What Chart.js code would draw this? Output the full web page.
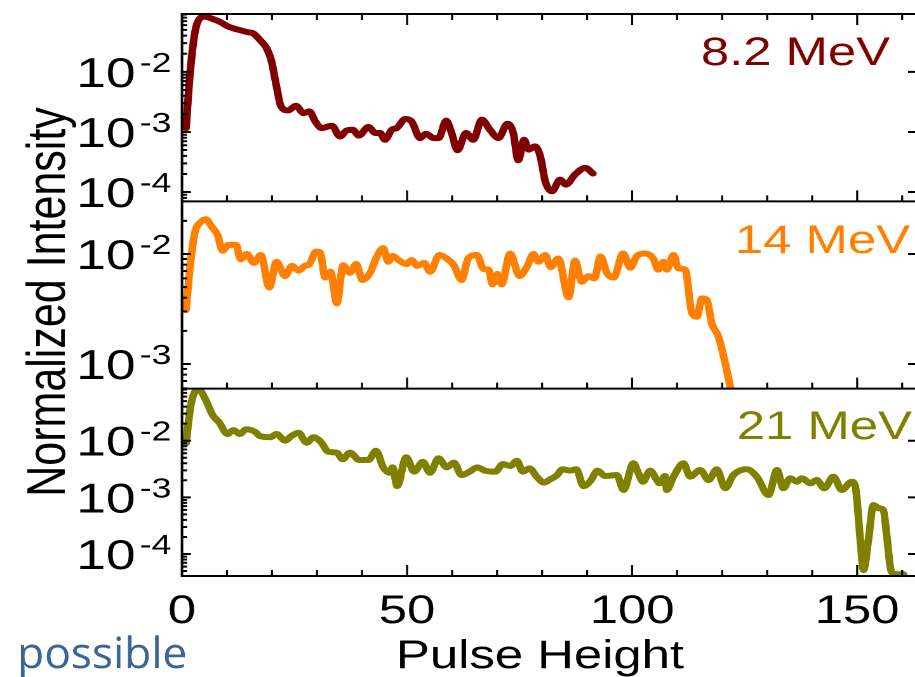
<!DOCTYPE html>
<html>
<head>
<meta charset="utf-8">
<title>Pulse height spectra</title>
<script src="https://cdn.jsdelivr.net/npm/chart.js@4.4.1/dist/chart.umd.min.js"></script>
<style>
    html, body { margin: 0; padding: 0; background: #fff; overflow: hidden; }
    /* the source figure is stretched sideways, so the canvas is too */
    #wrap { position: absolute; left: 0; top: 0; width: 721px; height: 677px; transform: scaleX(1.27); transform-origin: 0 0; }
</style>
</head>
<body>
<div id="wrap"><canvas id="chart-spectra" width="721" height="677"></canvas></div>
<script>
// 8.2 MeV
const pulse82 = [0.9, 1.8, 2.9, 4.0, 5.1, 7.0, 8.4, 10.3, 12.2, 13.3, 14.7, 15.8, 17.3, 18.8, 19.9, 21.0,
    22.0, 23.6, 25.3, 27.0, 28.3, 29.6, 31.0, 33.3, 35.1, 36.6, 37.9, 39.3, 41.4, 43.0, 44.0, 45.1,
    46.6, 47.7, 49.6, 51.0, 52.9, 54.2, 55.9, 57.0, 58.7, 59.9, 61.2, 63.1, 64.7, 66.6, 68.4, 70.3,
    72.3, 73.6, 74.7, 76.0, 77.0, 78.4, 79.6, 80.7, 82.2, 84.0, 85.3, 87.3, 89.6, 91.3];
const intensity82 = [1.16e-3, 9.6e-3, 0.0467, 0.078, 0.083, 0.075, 0.068, 0.0565, 0.051, 0.0485, 0.0456, 0.0438, 0.034, 0.0247, 0.0148, 5.7e-3,
    2.65e-3, 2.28e-3, 2.73e-3, 2.06e-3, 2.2e-3, 1.5e-3, 1.16e-3, 1.27e-3, 8.4e-4, 1.06e-3, 1.09e-3, 8.7e-4, 1.21e-3, 9.6e-4, 9.6e-4, 7.4e-4,
    1.09e-3, 1.16e-3, 1.64e-3, 1.5e-3, 7.9e-4, 9.35e-4, 7.9e-4, 7.9e-4, 1.54e-3, 9.6e-4, 4.95e-4, 9.6e-4, 7.4e-4, 1.6e-3, 1.09e-3, 7.9e-4,
    1.37e-3, 9.6e-4, 3.37e-4, 7.4e-4, 5.07e-4, 5.75e-4, 3.93e-4, 1.51e-4, 1.03e-4, 1.61e-4, 1.33e-4, 1.95e-4, 2.52e-4, 2.03e-4];

// 14 MeV
const pulse14 = [0.9, 1.8, 2.9, 4.0, 5.3, 6.6, 7.9, 9.0, 10.3, 12.0, 13.0, 14.4, 16.0, 17.5, 19.4, 21.0,
    22.9, 24.4, 25.9, 27.3, 28.3, 29.8, 30.7, 31.8, 33.0, 34.4, 35.8, 37.3, 38.7, 40.1, 41.8, 43.1,
    44.7, 45.8, 46.8, 48.3, 49.9, 51.0, 52.3, 53.8, 55.1, 57.2, 58.8, 60.4, 62.1, 63.6, 65.5, 67.0,
    68.1, 69.0, 70.1, 71.0, 72.9, 75.0, 76.6, 78.1, 79.2, 80.7, 81.9, 83.6, 85.9, 87.3, 88.8, 90.3,
    91.6, 93.0, 94.4, 95.9, 98.0, 99.6, 101.0, 102.9, 104.7, 105.8, 107.0, 107.7, 109.2, 110.3, 111.8, 113.3,
    114.4, 115.5, 116.6, 117.7, 119.2, 120.7, 122.2];
const intensity14 = [3.1e-3, 7.7e-3, 0.016, 0.0192, 0.0207, 0.0177, 0.0149, 0.0107, 0.0121, 0.0121, 8.95e-3, 0.01, 8.3e-3, 9.8e-3, 4.97e-3, 8.5e-3,
    6.3e-3, 7.8e-3, 7.05e-3, 7.8e-3, 8.1e-3, 0.0105, 0.0103, 6.1e-3, 6.9e-3, 3.55e-3, 7.9e-3, 6.75e-3, 8.1e-3, 5.8e-3, 6.75e-3, 9.1e-3,
    0.0113, 8.5e-3, 9.6e-3, 8.7e-3, 8.1e-3, 8.8e-3, 7.8e-3, 8.3e-3, 6.9e-3, 9.8e-3, 9.1e-3, 7.9e-3, 5.8e-3, 9.1e-3, 9.8e-3, 7.3e-3,
    7.2e-3, 5.3e-3, 6.6e-3, 5.3e-3, 0.0101, 6.3e-3, 7.6e-3, 0.01, 8.5e-3, 9.8e-3, 7.6e-3, 9.1e-3, 4.03e-3, 8.7e-3, 5.6e-3, 6.3e-3,
    6.0e-3, 9.5e-3, 6.7e-3, 6.1e-3, 0.0101, 7.5e-3, 9.5e-3, 0.0101, 9.1e-3, 7.2e-3, 8.5e-3, 7.2e-3, 9.8e-3, 7.4e-3, 7.2e-3, 2.89e-3,
    2.69e-3, 3.95e-3, 3.82e-3, 2.34e-3, 1.77e-3, 1.01e-3, 5.2e-4];

// 21 MeV
const pulse21 = [0.9, 1.9, 2.9, 3.8, 5.1, 6.8, 8.3, 10.1, 11.4, 12.9, 14.2, 16.2, 17.3, 19.6, 21.0, 22.9,
    24.3, 25.9, 27.7, 29.2, 30.8, 32.5, 34.4, 35.7, 37.3, 39.4, 41.4, 43.1, 44.7, 46.1, 46.8, 47.8,
    49.8, 51.6, 53.5, 55.1, 57.0, 58.8, 60.4, 62.1, 63.9, 65.6, 67.3, 69.6, 71.3, 72.9, 74.4, 75.7,
    77.2, 78.8, 80.4, 81.8, 83.1, 84.6, 86.1, 87.6, 89.2, 90.8, 92.3, 94.0, 96.6, 98.1,
    100.3, 101.4, 102.4, 104.0, 105.5, 106.1, 107.3, 107.7, 109.2, 111.4, 112.9, 115.1, 117.0, 118.8, 120.7, 122.5,
    125.5, 127.7, 130.3, 132.2, 133.6, 135.1, 136.6, 137.7, 139.6, 141.0, 142.7, 144.7, 146.6, 148.8, 149.6, 150.7,
    151.4, 152.5, 153.6, 154.9, 155.8, 156.6, 157.5, 158.4, 160.3];
const intensity21 = [9.0e-3, 0.0398, 0.073, 0.0785, 0.056, 0.0284, 0.0208, 0.0131, 0.0154, 0.0131, 0.0159, 0.0144, 0.0121, 0.0115, 0.0131, 0.01,
    0.0121, 0.0138, 9.2e-3, 0.0115, 9.6e-3, 6.4e-3, 6.15e-3, 4.7e-3, 6.15e-3, 4.56e-3, 4.56e-3, 6.65e-3, 3.39e-3, 2.72e-3, 3.39e-3, 1.58e-3,
    5.1e-3, 2.84e-3, 4.26e-3, 2.72e-3, 4.89e-3, 3.39e-3, 4.1e-3, 2.48e-3, 2.84e-3, 3.39e-3, 2.96e-3, 2.84e-3, 3.88e-3, 3.57e-3, 4.43e-3, 2.84e-3,
    3.25e-3, 2.32e-3, 1.82e-3, 2.08e-3, 2.38e-3, 3.13e-3, 2.96e-3, 3.13e-3, 1.58e-3, 1.97e-3, 2.96e-3, 2.38e-3, 2.48e-3, 1.35e-3,
    4.0e-3, 2.66e-3, 1.89e-3, 2.96e-3, 2.02e-3, 1.77e-3, 2.38e-3, 1.35e-3, 2.32e-3, 3.99e-3, 2.32e-3, 3.04e-3, 2.02e-3, 3.13e-3, 1.45e-3, 2.48e-3,
    3.13e-3, 2.32e-3, 1.1e-3, 3.04e-3, 1.45e-3, 2.17e-3, 1.89e-3, 2.17e-3, 1.77e-3, 2.02e-3, 1.45e-3, 2.32e-3, 1.35e-3, 1.89e-3, 1.54e-3, 1.77e-4,
    5.2e-5, 1.77e-4, 7.3e-4, 6.4e-4, 6.0e-4, 2.02e-4, 5.2e-5, 4.4e-5, 4.4e-5];

// axis labels
const xTickLabels = [0, 50, 100, 150];
const yExponents82 = [-2, -3, -4];
const yExponents14 = [-2, -3];
const yExponents21 = [-2, -3, -4];

const COLOR_82 = '#800000';
const COLOR_14 = '#ff8000';
const COLOR_21 = '#808000';
const FONT = '"Liberation Sans", Arial, Helvetica, sans-serif';

const toPoints = (xs, ys) => xs.map((x, i) => ({ x, y: ys[i] }));

// Frame, inward ticks and all text (superscript tick labels need manual drawing)
const framePlugin = {
    id: 'frame',
    afterDatasetsDraw: (chart) => {
        const { ctx, chartArea: area, scales } = chart;
        const x = scales.x;
        const panels = [
            { scale: scales.yTop, exps: yExponents82, name: '8.2 MeV', color: COLOR_82, right: 700.8, base: 65 },
            { scale: scales.yMid, exps: yExponents14, name: '14 MeV', color: COLOR_14, right: 716.5, base: 253 },
            { scale: scales.yBot, exps: yExponents21, name: '21 MeV', color: COLOR_21, right: 718.0, base: 439 }
        ];

        ctx.save();
        ctx.strokeStyle = '#000';
        ctx.fillStyle = '#000';

        // frame lines
        ctx.lineWidth = 2;
        ctx.beginPath();
        ctx.moveTo(area.left, area.top);
        ctx.lineTo(area.right, area.top);
        panels.forEach(p => {
            ctx.moveTo(area.left, p.scale.bottom);
            ctx.lineTo(area.right, p.scale.bottom);
        });
        ctx.moveTo(area.left, area.top - 1);
        ctx.lineTo(area.left, area.bottom + 1);
        ctx.stroke();

        // x ticks every 10, longer every 50
        ctx.lineWidth = 1.6;
        ctx.beginPath();
        for (let v = 10; v <= x.max; v += 10) {
            const px = x.getPixelForValue(v);
            const len = v % 50 === 0 ? 11 : 6;
            panels.forEach(p => {
                ctx.moveTo(px, p.scale.bottom);
                ctx.lineTo(px, p.scale.bottom - len);
            });
            ctx.moveTo(px, area.top);
            ctx.lineTo(px, area.top + len);
        }
        ctx.stroke();

        // log ticks on the left (all) and right (decades)
        ctx.lineWidth = 2;
        ctx.beginPath();
        panels.forEach(p => {
            const s = p.scale;
            for (let e = Math.floor(Math.log10(s.min)); e <= Math.ceil(Math.log10(s.max)); e++) {
                for (let m = 1; m <= 9; m++) {
                    const v = m * Math.pow(10, e);
                    if (v < s.min || v > s.max) continue;
                    const py = s.getPixelForValue(v);
                    ctx.moveTo(area.left, py);
                    ctx.lineTo(area.left + (m === 1 ? 7 : 4), py);
                    if (m === 1) {
                        ctx.moveTo(area.right, py);
                        ctx.lineTo(area.right - 6, py);
                    }
                }
            }
        });
        ctx.stroke();

        // y tick labels 10^n
        ctx.textBaseline = 'alphabetic';
        panels.forEach(p => {
            p.exps.forEach(e => {
                const py = p.scale.getPixelForValue(Math.pow(10, e));
                ctx.font = `42px ${FONT}`;
                ctx.textAlign = 'right';
                ctx.fillText('10', 106.7, py + 15);
                ctx.font = `28px ${FONT}`;
                ctx.textAlign = 'left';
                ctx.fillText(String(e), 110, py);
            });
        });

        // x tick labels and title
        ctx.font = `40px ${FONT}`;
        ctx.textAlign = 'center';
        xTickLabels.forEach(v => ctx.fillText(String(v), x.getPixelForValue(v), 623));
        ctx.fillText('Pulse Height', 425.2, 668);

        // y title
        ctx.save();
        ctx.translate(51, 302);
        ctx.rotate(-Math.PI / 2);
        ctx.font = `43px ${FONT}`;
        ctx.fillText('Normalized Intensity', 0, 0);
        ctx.restore();

        // energy labels
        ctx.font = `40px ${FONT}`;
        ctx.textAlign = 'right';
        panels.forEach(p => {
            ctx.fillStyle = p.color;
            ctx.fillText(p.name, p.right, p.base);
        });

        // stray word from the slide underneath
        ctx.fillStyle = '#3b6497';
        ctx.textAlign = 'left';
        ctx.font = '43px "Open Sans", "Noto Sans", sans-serif';
        ctx.fillText('possible', 13.5, 668, 134);

        ctx.restore();
    }
};

const lineDataset = (label, xs, ys, color, axis) => ({
    label,
    data: toPoints(xs, ys),
    yAxisID: axis,
    borderColor: color,
    backgroundColor: color,
    borderWidth: 6,
    pointRadius: 0,
    fill: false,
    cubicInterpolationMode: 'monotone',
    borderCapStyle: 'round',
    borderJoinStyle: 'round',
    clip: 0
});

const logPanel = (min, max) => ({
    type: 'logarithmic',
    min,
    max,
    position: 'left',
    stack: 'panels',
    stackWeight: 1,
    display: false
});

new Chart(document.getElementById('chart-spectra'), {
    type: 'line',
    data: {
        datasets: [
            lineDataset('8.2 MeV', pulse82, intensity82, COLOR_82, 'yTop'),
            lineDataset('14 MeV', pulse14, intensity14, COLOR_14, 'yMid'),
            lineDataset('21 MeV', pulse21, intensity21, COLOR_21, 'yBot')
        ]
    },
    options: {
        responsive: false,
        devicePixelRatio: 2,
        animation: false,
        layout: { autoPadding: false, padding: { left: 143.3, right: 0, top: 14, bottom: 101 } },
        plugins: { legend: { display: false }, tooltip: { enabled: false } },
        scales: {
            x: { type: 'linear', min: 0, max: 163, display: false },
            // stacked left axes: the last one listed ends up on top
            yBot: logPanel(4.09e-5, 0.0829),
            yMid: logPanel(5.97e-4, 0.0301),
            yTop: logPanel(7.13e-5, 0.0918)
        }
    },
    plugins: [framePlugin]
});
</script>
</body>
</html>
